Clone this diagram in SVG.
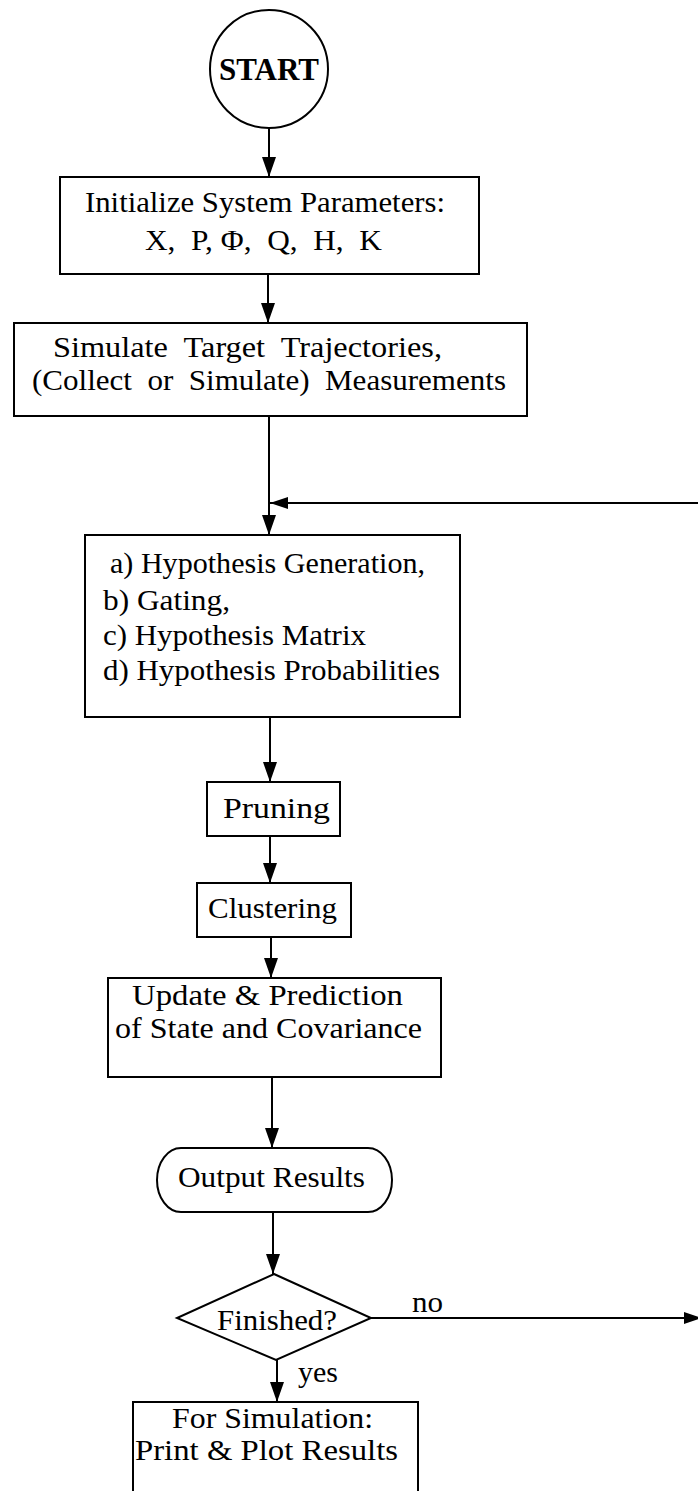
<svg xmlns="http://www.w3.org/2000/svg" width="698" height="1491" viewBox="0 0 698 1491">
<defs>
<style>
.box{fill:#fff;stroke:#000;stroke-width:2}
.t{font-family:"Liberation Serif","Times New Roman",serif;font-size:29px;fill:#000}
.c{text-anchor:middle}
.b{font-weight:bold;font-size:31px}
.ln{stroke:#000;stroke-width:2;fill:none}
</style>
<marker id="ah" markerUnits="userSpaceOnUse" markerWidth="20" markerHeight="14" refX="20" refY="7" orient="auto">
<path d="M0,0 L20,7 L0,14 z" fill="#000"/>
</marker>
<marker id="ahs" markerUnits="userSpaceOnUse" markerWidth="18" markerHeight="12" refX="18" refY="6" orient="auto">
<path d="M0,0 L18,6 L0,12 z" fill="#000"/>
</marker>
</defs>
<rect width="698" height="1491" fill="#fff"/>
<g id="connectors">
<line class="ln" x1="269" y1="128" x2="269" y2="177" marker-end="url(#ah)"/>
<line class="ln" x1="268" y1="274" x2="268" y2="323" marker-end="url(#ah)"/>
<line class="ln" x1="269" y1="416" x2="269" y2="535" marker-end="url(#ah)"/>
<line class="ln" x1="698" y1="503" x2="270" y2="503" marker-end="url(#ahs)"/>
<line class="ln" x1="270" y1="717" x2="270" y2="782" marker-end="url(#ah)"/>
<line class="ln" x1="270" y1="836" x2="270" y2="883" marker-end="url(#ah)"/>
<line class="ln" x1="271" y1="937" x2="271" y2="978" marker-end="url(#ah)"/>
<line class="ln" x1="272" y1="1077" x2="272" y2="1148" marker-end="url(#ah)"/>
<line class="ln" x1="273" y1="1212" x2="273" y2="1274" marker-end="url(#ah)"/>
<line class="ln" x1="371" y1="1318" x2="702" y2="1318" marker-end="url(#ahs)"/>
<line class="ln" x1="277" y1="1360" x2="277" y2="1402" marker-end="url(#ah)"/>
<text class="t" x="412" y="1312" textLength="31" lengthAdjust="spacingAndGlyphs">no</text>
<text class="t" x="298" y="1382" textLength="40" lengthAdjust="spacingAndGlyphs">yes</text>
</g>
<g id="start">
<circle class="box" cx="269" cy="69" r="59"/>
<text class="t c b" x="269" y="80">START</text>
</g>
<g id="init">
<rect class="box" x="60" y="177" width="419" height="97"/>
<text class="t" x="85" y="212" textLength="360" lengthAdjust="spacingAndGlyphs">Initialize System Parameters:</text>
<text class="t" x="145" y="250" textLength="237" lengthAdjust="spacingAndGlyphs" xml:space="preserve">X,  P, Φ,  Q,  H,  K</text>
</g>
<g id="simulate">
<rect class="box" x="14" y="323" width="513" height="93"/>
<text class="t" x="53" y="357" textLength="389" lengthAdjust="spacingAndGlyphs" xml:space="preserve">Simulate  Target  Trajectories,</text>
<text class="t" x="32" y="390" textLength="474" lengthAdjust="spacingAndGlyphs" xml:space="preserve">(Collect  or  Simulate)  Measurements</text>
</g>
<g id="hypothesis">
<rect class="box" x="85" y="535" width="375" height="182"/>
<text class="t" x="110" y="573" textLength="315" lengthAdjust="spacingAndGlyphs">a) Hypothesis Generation,</text>
<text class="t" x="103" y="610" textLength="127" lengthAdjust="spacingAndGlyphs">b) Gating,</text>
<text class="t" x="103" y="645" textLength="263" lengthAdjust="spacingAndGlyphs">c) Hypothesis Matrix</text>
<text class="t" x="103" y="680" textLength="337" lengthAdjust="spacingAndGlyphs">d) Hypothesis Probabilities</text>
</g>
<g id="pruning">
<rect class="box" x="207" y="782" width="133" height="54"/>
<text class="t" x="223" y="818" textLength="107" lengthAdjust="spacingAndGlyphs">Pruning</text>
</g>
<g id="clustering">
<rect class="box" x="197" y="883" width="154" height="54"/>
<text class="t" x="208" y="918" textLength="129" lengthAdjust="spacingAndGlyphs">Clustering</text>
</g>
<g id="update">
<rect class="box" x="108" y="978" width="333" height="99"/>
<text class="t" x="132" y="1005" textLength="271" lengthAdjust="spacingAndGlyphs">Update &amp; Prediction</text>
<text class="t" x="115" y="1038" textLength="307" lengthAdjust="spacingAndGlyphs">of State and Covariance</text>
</g>
<g id="output">
<rect class="box" x="157" y="1148" width="235" height="64" rx="24" ry="32"/>
<text class="t" x="178" y="1187" textLength="187" lengthAdjust="spacingAndGlyphs">Output Results</text>
</g>
<g id="finished">
<polygon class="box" points="274,1274 371,1318 276,1360 177,1318"/>
<text class="t" x="217" y="1330" textLength="120" lengthAdjust="spacingAndGlyphs">Finished?</text>
</g>
<g id="final">
<rect class="box" x="133" y="1402" width="285" height="100"/>
<text class="t" x="172" y="1428" textLength="201" lengthAdjust="spacingAndGlyphs">For Simulation:</text>
<text class="t" x="135" y="1460" textLength="263" lengthAdjust="spacingAndGlyphs">Print &amp; Plot Results</text>
</g>
</svg>
